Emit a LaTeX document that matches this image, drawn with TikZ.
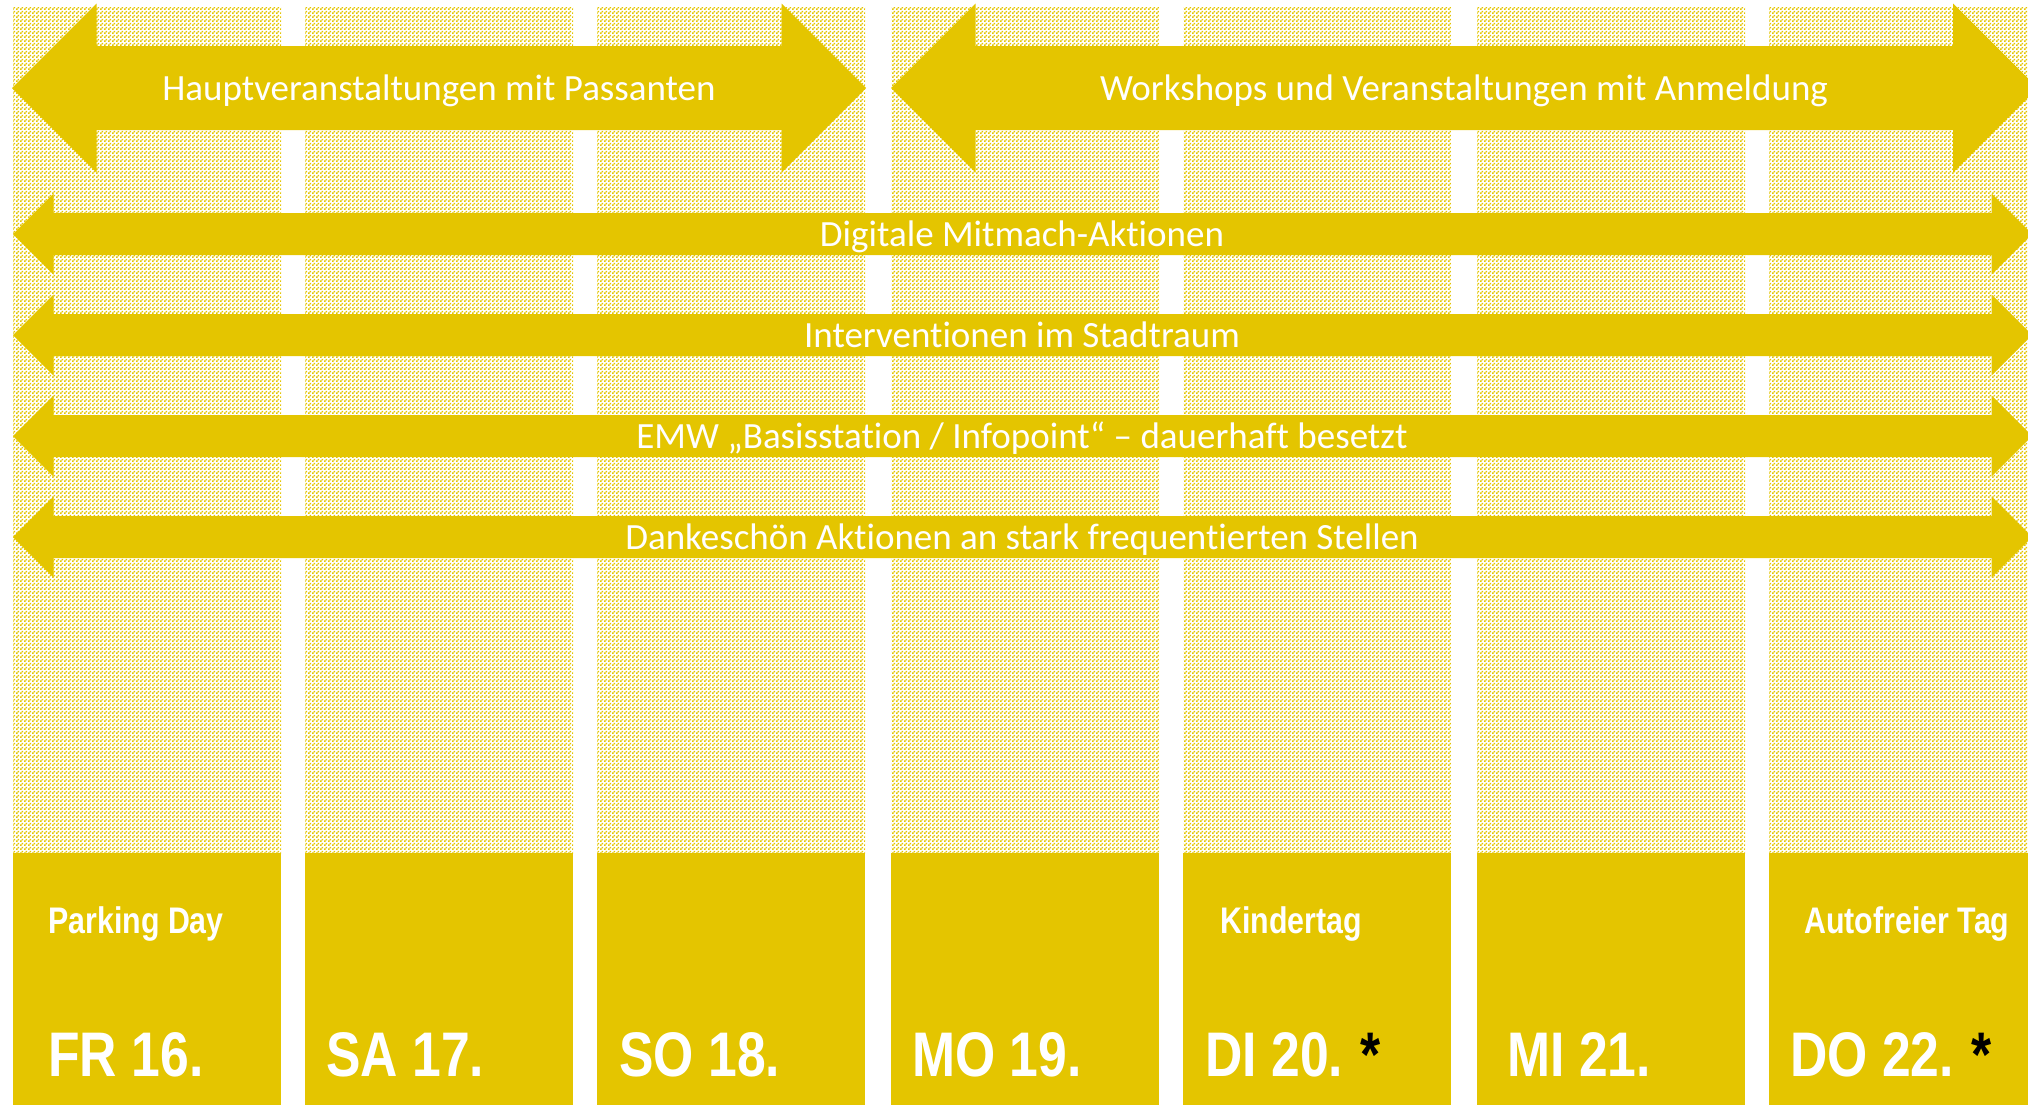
\documentclass[tikz,border=0pt]{standalone}
\usepackage{fontspec}
\usetikzlibrary{patterns}
\newfontfamily\calibf[Ligatures=NoCommon]{Carlito}
\newfontfamily\narrowf[FakeStretch=0.82]{Liberation Sans}
\definecolor{ylw}{RGB}{228,197,0}
\pgfdeclarepatternformonly{chk}{\pgfpointorigin}{\pgfpoint{2pt}{2pt}}{\pgfpoint{2pt}{2pt}}{%
  \pgfpathrectangle{\pgfpointorigin}{\pgfpoint{1pt}{1pt}}%
  \pgfpathrectangle{\pgfpoint{1pt}{1pt}}{\pgfpoint{1pt}{1pt}}%
  \pgfusepath{fill}}
% double-headed block arrow: left tip x, right tip x, centre y, half shaft, half head
\newcommand\DArrow[5]{%
  \fill[ylw] (#1,#3) -- ({#1+#5},{#3-#5}) -- ({#1+#5},{#3-#4}) -- ({#2-#5},{#3-#4})
    -- ({#2-#5},{#3-#5}) -- (#2,#3) -- ({#2-#5},{#3+#5}) -- ({#2-#5},{#3+#4})
    -- ({#1+#5},{#3+#4}) -- ({#1+#5},{#3+#5}) -- cycle;}
\tikzset{
  arrtext/.style={anchor=base, inner sep=0pt, text=white, font=\calibf\fontsize{18.5pt}{20pt}\selectfont},
  daylabel/.style={anchor=base west, inner sep=0pt, text=white, font=\narrowf\bfseries\fontsize{18.5pt}{20pt}\selectfont},
  datelabel/.style={anchor=base west, inner sep=0pt, text=white, font=\narrowf\bfseries\fontsize{31.5pt}{34pt}\selectfont},
  patcol/.style={pattern=chk, pattern color=ylw},
  solidcol/.style={fill=ylw}
}
\begin{document}
\begin{tikzpicture}[x=0.5pt,y=-0.5pt]
\useasboundingbox (0,0) rectangle (2028,1105);
\clip (0,0) rectangle (2028,1105);
% columns
\foreach \cx in {13,305,597,891,1183,1477,1769}{
  \fill[patcol] (\cx,7) rectangle ({\cx+268},853);
  \fill[solidcol] (\cx,853) rectangle ({\cx+268},1105);
}
% big arrows
\DArrow{12}{866}{88}{42}{84.5}
\DArrow{891}{2037.5}{88}{42}{84.5}
% thin arrows
\DArrow{13}{2032}{234}{21}{40.5}
\DArrow{13}{2032}{335}{21}{40.5}
\DArrow{13}{2032}{436}{21}{40.5}
\DArrow{13}{2032}{537}{21}{40.5}
% arrow texts
\node[arrtext] (a1) at (439,100) {Hauptveranstaltungen mit Passanten};
\node[arrtext] (a2) at (1464,100) {Workshops und Veranstaltungen mit Anmeldung};
\node[arrtext] (a3) at (1022,246) {Digitale Mitmach-Aktionen};
\node[arrtext] (a4) at (1022,347) {Interventionen im Stadtraum};
\node[arrtext] (a5) at (1022,448) {EMW „Basisstation / Infopoint“ – dauerhaft besetzt};
\node[arrtext] (a6) at (1022,549) {Dankeschön Aktionen an stark frequentierten Stellen};
% day labels
\node[daylabel] (l1) at (48,933) {Parking Day};
\node[daylabel] (l5) at (1220,933) {Kindertag};
\node[daylabel] (l7) at (1804,933) {Autofreier Tag};
% dates
\node[datelabel] (d1) at (48,1076) {FR 16.};
\node[datelabel] (d2) at (326,1076) {SA 17.};
\node[datelabel] (d3) at (619,1076) {SO 18.};
\node[datelabel] (d4) at (912,1076) {MO 19.};
\node[datelabel] (d5) at (1205,1076) {DI 20.\hspace{-1pt} {\color{black}*}};
\node[datelabel] (d6) at (1507,1076) {MI 21.};
\node[datelabel] (d7) at (1790,1076) {DO 22.\hspace{-1pt} {\color{black}*}};
\end{tikzpicture}
\end{document}
